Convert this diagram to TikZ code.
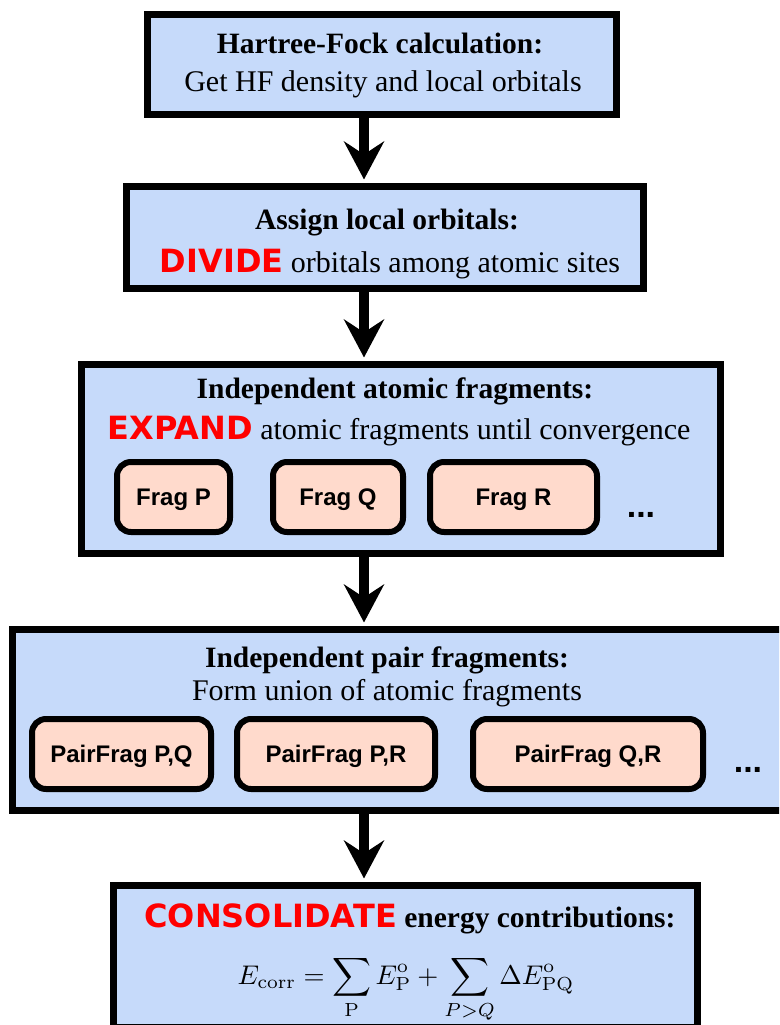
\documentclass[tikz,border=0pt]{standalone}
\usepackage[no-math]{fontspec}
\setmainfont{Liberation Serif}
\newfontfamily\fragfont{Liberation Sans}
\newfontfamily\shoutfont{DejaVu Sans}
\usetikzlibrary{arrows.meta}

\definecolor{boxblue}{RGB}{198,218,250}
\definecolor{fragpeach}{RGB}{255,218,204}
\definecolor{shoutred}{RGB}{255,0,0}

% red keyword at the start of a line
\newcommand\shoutword[1]{{\shoutfont\bfseries\fontsize{32}{36}\selectfont\color{shoutred}#1}}

\begin{document}
\begin{tikzpicture}[x=1pt,y=-1pt,
  stage/.style={draw=black, fill=boxblue, line width=7pt, inner sep=0pt, rectangle},
  frag/.style={draw=black, fill=fragpeach, line width=6pt, rounded corners=14pt,
    inner sep=0pt, minimum height=70pt, text height=17.5pt, text depth=0pt,
    font=\fragfont\bfseries\fontsize{24}{28}\selectfont},
  dots/.style={inner sep=0pt, font=\fragfont\bfseries\fontsize{34}{38}\selectfont},
  title/.style={inner sep=0pt, anchor=base, font=\bfseries\fontsize{29.5}{36}\selectfont},
  body/.style={inner sep=0pt, anchor=base, font=\fontsize{30}{36}\selectfont},
  formula/.style={inner sep=0pt, anchor=base, scale=2.7, font=\fontsize{10}{12}\selectfont},
  flow/.style={line width=10pt, -{Stealth[length=38pt,width=40pt,inset=13pt]}, shorten >=3.5pt}
]
\useasboundingbox (0,0) rectangle (779,1025);
\clip (0,0) rectangle (779,1025);

\coordinate (ax) at (364,0);

% stage boxes (outer border edges given in the comments)
\node[stage, minimum width=469pt, minimum height=100pt] (s1) at (382,64.5) {};   % 144..620, 11..118
\node[stage, minimum width=517pt, minimum height=102pt] (s2) at (385,237.5) {};  % 123..647, 183..292
\node[stage, minimum width=639pt, minimum height=189pt] (s3) at (401,459) {};    % 78..724, 361..557
\node[stage, minimum width=774pt, minimum height=181pt] (s4) at (399.5,720) {};  % 9..790, 626..814
\node[stage, minimum width=584pt, minimum height=142pt] (s5) at (405.5,956.5) {};% 110..701, 882..1031

% connectors
\draw[flow] (s1.south -| ax) -- (s2.north -| ax);
\draw[flow] (s2.south -| ax) -- (s3.north -| ax);
\draw[flow] (s3.south -| ax) -- (s4.north -| ax);
\draw[flow] (s4.south -| ax) -- (s5.north -| ax);

% stage 1
\node[title] (t1) at (380,53) {Hartree-Fock calculation:};
\node[body]  (b1) at (383,92) {Get HF density and local orbitals};

% stage 2
\node[title] (t2) at (387,229) {Assign local orbitals:};
\node[body]  (b2) at (390,272) {\shoutword{DIVIDE} orbitals among atomic sites};

% stage 3
\node[title] (t3) at (395,398) {Independent atomic fragments:};
\node[body]  (b3) at (399,439) {\shoutword{EXPAND} atomic fragments until convergence};
\node[frag, minimum width=113pt] (fp) at (173.5,497) {Frag P};
\node[frag, minimum width=130pt] (fq) at (338,497) {Frag Q};
\node[frag, minimum width=167pt] (fr) at (513.5,497) {Frag R};
\node[dots, anchor=base] (d3) at (641,517) {...};

% stage 4
\node[title] (t4) at (387,667) {Independent pair fragments:};
\node[body]  (b4) at (387,700) {Form union of atomic fragments};
\node[frag, minimum width=179pt] (pq) at (121.5,754) {PairFrag P,Q};
\node[frag, minimum width=198pt] (pr) at (336,754) {PairFrag P,R};
\node[frag, minimum width=230pt] (qr) at (588,754) {PairFrag Q,R};
\node[dots, anchor=base] (d4) at (748,772) {...};

% stage 5
\node[title] (t5) at (410,927) {\shoutword{CONSOLIDATE} energy contributions:};
\node[formula] (f5) at (406,984) {$\displaystyle E_{\mathrm{corr}} = \sum_{\mathrm{P}} E^{\mathrm{o}}_{\mathrm{P}}
   + \sum_{P>Q} \Delta E^{\mathrm{o}}_{\mathrm{PQ}}$};
\end{tikzpicture}
\end{document}
